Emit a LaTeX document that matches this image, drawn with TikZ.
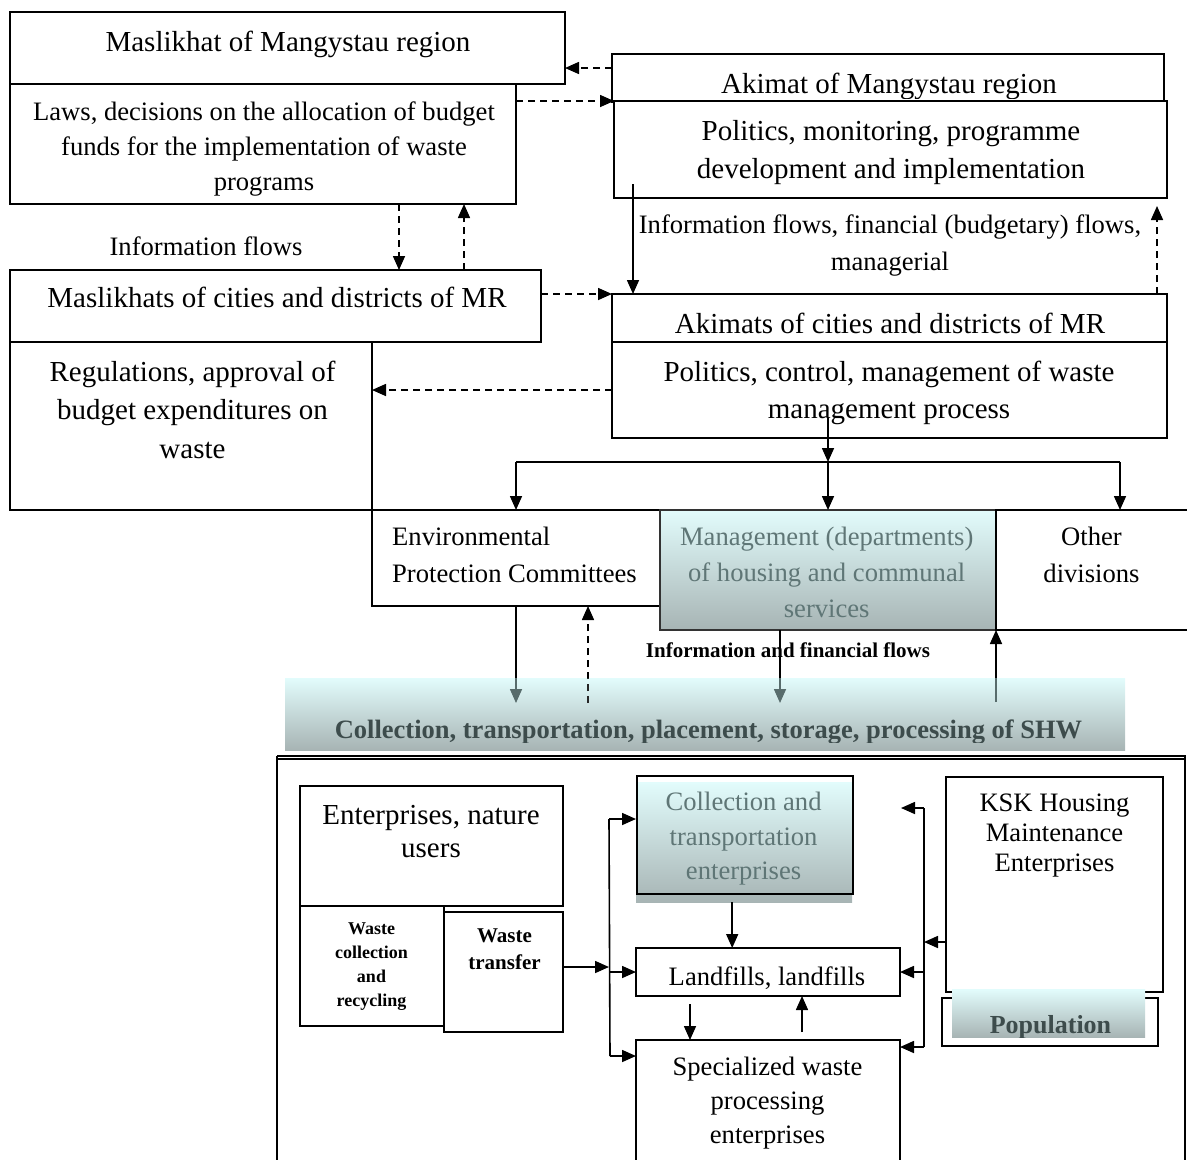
\documentclass[tikz,border=0pt]{standalone}
\usepackage{fontspec}
\setmainfont{Liberation Serif}
\usetikzlibrary{arrows.meta,calc}
\definecolor{gtop}{HTML}{E2FCFC}
\definecolor{gbot}{HTML}{A7B4B4}
\definecolor{tealtxt}{HTML}{5F7676}
\definecolor{darktxt}{HTML}{3D4C4C}
\definecolor{arrgrey}{HTML}{586C6C}
\newcommand\fs[2]{\fontsize{#1}{#2}\selectfont}
\newcommand\mkbox[6][]{\node[box,minimum width={#5pt-#3pt},minimum height={#6pt-#4pt},#1] (#2) at (#3,#4) {};}
\tikzset{
  box/.style={draw,line width=1.5pt,fill=white,inner sep=0pt,outer sep=0pt,anchor=north west,rectangle},
  grad/.style={top color=gtop,bottom color=gbot},
  tx/.style={inner sep=0pt,anchor=base},
  txn/.style={inner sep=0pt,anchor=north,align=center},
  tipA/.style={-{Triangle[length=14pt,width=12pt]}},
  sarr/.style={line width=1.6pt,tipA},
  darr/.style={line width=1.6pt,tipA,dash pattern=on 7pt off 5pt},
  ln/.style={line width=1.6pt},
}
\begin{document}
\begin{tikzpicture}[x=1pt,y=-1pt]
\useasboundingbox (0,0) rectangle (1187,1160);
% ---------- top left
\mkbox{A}{10}{12}{565}{84}
\mkbox{B}{10}{84}{516}{204}
\node[tx,font=\fs{29}{35}] (tA) at (288,51) {Maslikhat of Mangystau region};
\node[txn,font=\fs{26.6}{35}] (tB) at (264,102) {Laws, decisions on the allocation of budget\\funds for the implementation of waste\\programs};
\node[tx,font=\fs{26.6}{32}] (tI1) at (206,255) {Information flows};
% ---------- top right
\mkbox{C}{612}{54}{1164}{102}
\begin{scope}
\clip (C.north west) rectangle (1170,98.5);
\node[tx,font=\fs{29}{35}] (tC) at (889,93) {Akimat of Mangystau region};
\end{scope}
\mkbox{D}{614}{101}{1167}{198}
\node[txn,font=\fs{29}{38}] (tD) at (891,120.5) {Politics, monitoring, programme\\development and implementation};
\node[txn,font=\fs{26.6}{37}] (tI2) at (890,215) {Information flows, financial (budgetary) flows,\\managerial};
% ---------- middle
\mkbox{E}{10}{270}{541}{342}
\node[tx,font=\fs{29}{35}] (tE) at (277,307) {Maslikhats of cities and districts of MR};
\mkbox{F}{10}{342}{372}{510}
\node[txn,font=\fs{29}{38.5}] (tF) at (192.5,360.5) {Regulations, approval of\\budget expenditures on\\waste};
\mkbox{G}{612}{294}{1167}{342}
\mkbox{H}{612}{342}{1167}{438}
\node[tx,font=\fs{29}{35}] (tG) at (890,333) {Akimats of cities and districts of MR};
\node[txn,font=\fs{29}{37}] (tH) at (889,360.5) {Politics, control, management of waste\\management process};
% ---------- row 3
\mkbox{Env}{372}{510}{660}{606}
\mkbox[grad,draw=black!80]{Mgmt}{660}{510}{996}{630}
\mkbox{Oth}{996}{510}{1190}{630}
\node[inner sep=0pt,anchor=north west,align=left,font=\fs{26.6}{37}] (tEnv) at (392,527) {Environmental\\Protection Committees};
\node[txn,font=\fs{26.6}{36},text=tealtxt] (tMg) at (826.7,527) {Management (departments)\\of housing and communal\\services};
\node[txn,font=\fs{26.6}{37}] (tOth) at (1091.5,527) {Other\\divisions};
\node[tx,font=\fs{21}{24}\bfseries] (tIFF) at (788,657) {Information and financial flows};
% ---------- top arrows
\draw[darr] ([yshift=-14pt]C.north west) -- ([yshift=-14pt]C.north west -| A.east);
\draw[darr] ([yshift=-17pt]B.north east) -- ([yshift=-17pt]B.north east -| D.west);
\draw[darr] ([xshift=389pt]B.south west) -- ([xshift=389pt]B.south west |- E.north);
\draw[darr] ([xshift=454pt]E.north west) -- ([xshift=454pt]E.north west |- B.south);
\draw[darr] ([yshift=-24pt]E.north east) -- ([yshift=-24pt]E.north east -| G.west);
\coordinate (dg) at ($(D.south west)+(19,-14)$);
\draw[sarr] (dg) -- (dg |- G.north);
\coordinate (gd) at ($(G.north east)+(-10,0)$);
\coordinate (gdt) at ($(gd |- D.south)+(0,8)$);
\draw[darr] (gd) -- (gdt);
\draw[darr] (H.west) -- (H.west -| F.east);
% split
\coordinate (j) at ($(Mgmt.north)+(0,-48)$);
\coordinate (hs) at ($(H.south -| Mgmt.north)+(0,-20)$);
\coordinate (jr) at ($(j -| Oth.north)+(27,0)$);
\draw[sarr] (hs) -- (j);
\draw[ln] (j -| Env.north) -- (jr);
\draw[sarr] (j) -- (Mgmt.north);
\draw[sarr] (j -| Env.north) -- (Env.north);
\draw[sarr] (jr) -- (jr |- Oth.north);
% row 3 arrows
\coordinate (e1) at ($(Env.south)+(0,97)$);
\coordinate (e2) at ($(Env.south)+(72,97)$);
\coordinate (e2t) at ($(Env.south)+(72,0)$);
\coordinate (m1) at ($(Mgmt.south)+(-48,0)$);
\coordinate (m1t) at ($(Mgmt.south)+(-48,73)$);
\coordinate (o1) at ($(Oth.south west)+(0,72)$);
\draw[sarr] (Env.south) -- (e1);
\draw[darr] (e2) -- (e2t);
\draw[sarr] (m1) -- (m1t);
\draw[sarr] (o1) -- (Oth.south west);
% band
\node[grad,draw=none,inner sep=0pt,anchor=north west,minimum width=840pt,minimum height=72pt] (band) at (285,678) {};
\begin{scope}
\clip (band.north west) rectangle (band.south east);
\draw[sarr,draw=arrgrey,fill=arrgrey] (Env.south) -- (e1);
\draw[darr,draw=black!85] (e2) -- (e2t);
\draw[sarr,draw=arrgrey,fill=arrgrey] (m1) -- (m1t);
\draw[ln,draw=arrgrey] (o1) -- (Oth.south west);
\end{scope}
\begin{scope}
\clip (band.north west) rectangle ($(band.south east)+(0,-8)$);
\node[tx,font=\fs{26.5}{30}\bfseries,text=darktxt] (tBand) at (708.5,738) {Collection, transportation, placement, storage, processing of SHW};
\end{scope}
\draw[line width=1.2pt] (277,756) -- (1186,756);
\draw[line width=1.2pt] (277,759) -- (1186,759);
\draw[line width=1.5pt] (277,756) -- (277,1162);
\draw[line width=1.5pt] (1185,756) -- (1185,1162);
% ---------- bottom
\mkbox{Ent}{300}{786}{563}{906}
\mkbox{WC}{300}{906}{444}{1026}
\mkbox{WT}{444}{912}{563}{1032}
\node[grad,inner sep=0pt,anchor=north west,minimum width=216pt,minimum height=120pt] (CollSh) at (636,782) {};
\node[draw,line width=1.5pt,inner sep=0pt,anchor=north west,minimum width=216pt,minimum height=118pt] (Coll) at (636,775) {};
\mkbox{LF}{636}{948}{900}{996}
\mkbox{SP}{636}{1040}{900}{1172}
\mkbox{KSK}{946}{777}{1163}{992}
\mkbox{Pop}{942}{998}{1158}{1046}
\node[grad,inner sep=0pt,anchor=north west,minimum width=193pt,minimum height=48pt] (PopSh) at (952,989) {};
\begin{scope}
\clip (PopSh.north west) rectangle (PopSh.south east);
\node[tx,font=\fs{26}{30}\bfseries,text=darktxt] (tPop) at (1050.5,1033) {Population};
\end{scope}
\node[txn,font=\fs{29}{33}] (tEnt) at (431,805.5) {Enterprises, nature\\users};
\node[txn,font=\fs{18}{24}\bfseries] (tWC) at (371.5,923) {Waste\\collection\\and\\recycling};
\node[txn,font=\fs{21}{27}\bfseries] (tWT) at (504.5,929) {Waste\\transfer};
\node[txn,font=\fs{26.6}{34.5},text=tealtxt] (tColl) at (743.6,792) {Collection and\\transportation\\enterprises};
\node[tx,font=\fs{26.6}{32}] (tLF) at (767,985) {Landfills, landfills};
\node[txn,font=\fs{26.6}{34}] (tSP) at (767.5,1057) {Specialized waste\\processing\\enterprises};
\node[txn,font=\fs{26.6}{30}] (tKSK) at (1054.5,794) {KSK Housing\\Maintenance\\Enterprises};
% left bus
\coordinate (blt) at ($(Coll.north west)+(-27,44)$);
\coordinate (blb) at ($(SP.north west)+(-26,16)$);
\draw[ln] (blt) -- (blb);
\draw[sarr] (blt) -- (blt -| Coll.west);
\draw[sarr] (blb) -- (blb -| SP.west);
\coordinate (wt) at ($(WT.east)+(0,-5)$);
\draw[sarr] (wt) -- (wt -| blt);
\draw[sarr] (LF.west -| blt) -- (LF.west);
% right bus
\coordinate (brt) at ($(LF.north east)+(24,-140)$);
\coordinate (brb) at ($(SP.north east)+(24,7)$);
\coordinate (brtip) at ($(brt)+(-23,0)$);
\draw[ln] (brt) -- (brb);
\draw[sarr] (brt) -- (brtip);
\draw[sarr] (LF.east -| brt) -- (LF.east);
\draw[sarr] (brb) -- (brb -| SP.east);
\coordinate (kq) at ($(KSK.north west)+(0,165)$);
\draw[sarr] (kq) -- (kq -| brt);
% inner arrows
\coordinate (c1) at ($(CollSh.south)+(-12,0)$);
\draw[sarr] (c1) -- (c1 |- LF.north);
\coordinate (l1) at ($(LF.south west)+(54,8)$);
\draw[sarr] (l1) -- (l1 |- SP.north);
\coordinate (s1) at ($(SP.north west)+(166,-8)$);
\draw[sarr] (s1) -- (s1 |- LF.south);
\end{tikzpicture}
\end{document}
